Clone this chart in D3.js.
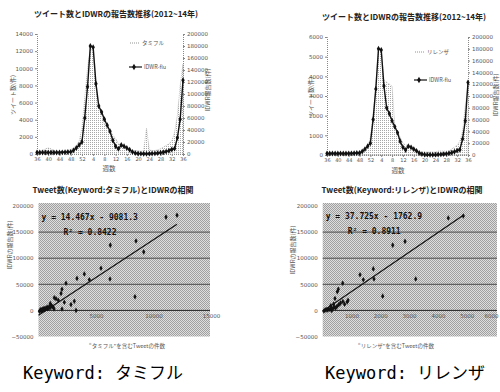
<!DOCTYPE html>
<html>
<head>
<meta charset="utf-8">
<script src="https://cdn.jsdelivr.net/npm/d3@7"></script>
<style>
  body { margin: 0; background: #fff; }
  svg { display: block; font-family: "Noto Sans CJK JP", "DejaVu Sans", sans-serif; }
</style>
</head>
<body>
<div id="chart"></div>
<script>
// week labels under the two time series charts (every 4th week)
const weekLabels = ["36", "40", "44", "48", "52", "4", "8", "12", "16", "20", "24", "28", "32", "36"];

// IDWR weekly reports (right axis), shared by both top charts
const idwr = [2500, 2500, 2500, 2500, 2500, 2500, 2500, 2500, 2500, 2800, 3000, 3300,
  3500, 6000, 10000, 15000, 20000, 60000, 112000, 180000, 178000, 117000, 80000, 70000,
  58000, 48000, 38000, 23000, 13000, 8500, 15000, 13000, 10000, 7000, 3500, 1500,
  800, 600, 500, 500, 600, 800, 1000, 1500, 2000, 3000, 4000, 5500,
  7500, 9000, 27000, 58000, 123000];

// tweets containing the keyword (left axis)
const tamifluTweets = [300, 300, 400, 600, 700, 600, 400, 300, 300, 300, 350, 400,
  500, 700, 1000, 1500, 3000, 6500, 10000, 12300, 12000, 8000, 5500, 4500,
  3500, 3000, 2800, 2200, 1800, 1200, 1000, 900, 700, 500, 400, 400,
  350, 300, 400, 3000, 500, 400, 400, 500, 600, 800, 1000, 1200,
  1500, 2500, 4500, 8000, 10500];
const relenzaTweets = [100, 100, 100, 100, 100, 100, 100, 100, 100, 100, 100, 100,
  200, 200, 200, 400, 900, 2000, 3500, 5400, 5300, 3800, 3700, 3600,
  3500, 1500, 1200, 900, 600, 500, 500, 400, 150, 150, 150, 150,
  150, 150, 150, 150, 150, 200, 200, 200, 200, 200, 300, 400,
  500, 700, 1200, 2500, 3500];

// scatter: weekly tweet count vs IDWR reports
const tamifluX = [12043, 11087, 8478, 9148, 6246, 5435, 3986, 3348, 4420, 6217, 2391, 2043, 1957, 1522, 2246,
  2826, 3116, 8391, 3261, 1374, 1722, 1026, 2043, 80, 150, 200, 260, 320, 380, 430, 500, 560, 620, 700, 760,
  820, 900, 980, 1050, 1150, 1250, 1350];
const tamifluY = [182400, 178700, 132800, 112100, 125000, 80800, 69700, 61300, 58600, 60000, 52100, 40400, 32600, 22300, 15600,
  11100, 17600, 26200, 0, 24200, 19500, 13000, 2700, -1500, 500, 1200, -500, 2000, 800, 3000, 1500, 4000, 2500, 5000, 3200,
  6500, 4000, 7500, 5500, 9000, 6500, 3000];
const relenzaX = [4882, 4361, 2858, 2431, 1295, 1758, 1410, 1781, 3229, 2083, 694, 543, 507, 427, 850,
  880, 312, 620, 700, 760, 560, 40, 80, 120, 160, 200, 250, 300, 350, 400, 450, 500, 380, 280];
const relenzaY = [181000, 177100, 132200, 125000, 68400, 79500, 58600, 60000, 60000, 27300, 52100, 40400, 35700, 22800, 16000,
  19500, 0, 14000, 17000, 12000, 11000, -1000, 500, 1500, 800, 2500, 1800, 4000, 3000, 6000, 4500, 8000, 12000, 9000];

// trendline coefficients printed on the charts [slope, intercept, R2]
const tamifluFit = [14.467, -9081.3, 0.8422];
const relenzaFit = [37.725, -1762.9, 0.8911];

const svg = d3.select("#chart").append("svg").attr("width", 500).attr("height", 392);

const defs = svg.append("defs");
const stip = defs.append("pattern").attr("id", "stipple").attr("width", 2).attr("height", 2)
  .attr("patternUnits", "userSpaceOnUse");
stip.append("rect").attr("width", 2).attr("height", 2).attr("fill", "#dedede");
stip.append("rect").attr("width", 1).attr("height", 1).attr("fill", "#a0a0a0");
stip.append("rect").attr("x", 1).attr("y", 1).attr("width", 1).attr("height", 1).attr("fill", "#a0a0a0");
const dots = defs.append("pattern").attr("id", "dots").attr("width", 2).attr("height", 2)
  .attr("patternUnits", "userSpaceOnUse");
dots.append("rect").attr("width", 2).attr("height", 2).attr("fill", "#fff");
dots.append("rect").attr("width", 1).attr("height", 1).attr("fill", "#a8a8a8");

const fmt = d3.format("d");

function styleAxis(g, size) {
  g.attr("font-family", "DejaVu Sans").attr("font-size", size);
  g.selectAll("text").attr("fill", "#555");
  g.selectAll(".tick line").attr("stroke", "#888");
  g.select(".domain").attr("stroke", "#888").attr("stroke-dasharray", "1,1");
}

function label(x, y, text, opts = {}) {
  return svg.append("text")
    .attr("transform", `translate(${x},${y})` + (opts.rotate ? ` rotate(${opts.rotate})` : ""))
    .attr("text-anchor", opts.anchor || "middle")
    .attr("dominant-baseline", "middle")
    .attr("font-size", opts.size || 6)
    .attr("font-weight", opts.weight || "normal")
    .attr("font-family", opts.family || null)
    .attr("fill", opts.fill || "#555")
    .text(text);
}

function drawCombo(c) {
  const x = d3.scaleLinear().domain([0, idwr.length - 1]).range([c.left, c.right]);
  const yL = d3.scaleLinear().domain([0, c.leftMax]).range([c.bottom, c.top]);
  const yR = d3.scaleLinear().domain([0, 200000]).range([c.bottom, c.top]);

  // dotted tweet area
  svg.append("path").datum(c.tweets)
    .attr("d", d3.area().x((d, i) => x(i)).y0(c.bottom).y1(d => yL(d)))
    .attr("fill", "url(#dots)")
    .attr("stroke", "#999").attr("stroke-width", 0.6).attr("stroke-dasharray", "1,1");

  svg.append("g").attr("transform", `translate(${c.left},0)`)
    .call(d3.axisLeft(yL).tickValues(d3.range(0, c.leftMax + 1, c.leftStep)).tickFormat(fmt).tickSize(2).tickPadding(2))
    .call(g => styleAxis(g, 5.5));
  svg.append("g").attr("transform", `translate(${c.right},0)`)
    .call(d3.axisRight(yR).tickValues(d3.range(0, 200001, 20000)).tickFormat(fmt).tickSize(2).tickPadding(2))
    .call(g => styleAxis(g, 5.5));
  svg.append("g").attr("transform", `translate(0,${c.bottom})`)
    .call(d3.axisBottom(x).tickValues(d3.range(0, idwr.length, 4))
      .tickFormat((d, i) => weekLabels[i]).tickSize(2).tickPadding(1))
    .call(g => styleAxis(g, 5));

  // IDWR line with diamond markers
  svg.append("path").datum(idwr)
    .attr("d", d3.line().x((d, i) => x(i)).y(d => yR(d)))
    .attr("fill", "none").attr("stroke", "#111").attr("stroke-width", 1.4);
  svg.append("g").selectAll("path").data(idwr).join("path")
    .attr("transform", (d, i) => `translate(${x(i)},${yR(d)})`)
    .attr("d", d3.symbol(d3.symbolDiamond, 10))
    .attr("fill", "#111");

  // legend
  const lg = c.legend;
  svg.append("line").attr("x1", lg.x).attr("x2", lg.x + 10).attr("y1", lg.y1).attr("y2", lg.y1)
    .attr("stroke", "#777").attr("stroke-width", 0.8).attr("stroke-dasharray", "1,1");
  label(lg.x + 12, lg.y1, c.name, { anchor: "start", size: 5.5 });
  svg.append("line").attr("x1", lg.x - 1).attr("x2", lg.x + 12).attr("y1", lg.y2).attr("y2", lg.y2)
    .attr("stroke", "#111").attr("stroke-width", 1.2);
  svg.append("path").attr("transform", `translate(${lg.x + 4},${lg.y2})`)
    .attr("d", d3.symbol(d3.symbolDiamond, 12)).attr("fill", "#111");
  label(lg.x + 14, lg.y2, "IDWR-flu", { anchor: "start", size: 5.5 });

  label(c.titleX, c.titleY, "ツイート数とIDWRの報告数推移(2012~14年)", { size: 8, weight: "bold", fill: "#222" });
  label(c.ylx, c.yly, "ツイート数(件)", { rotate: -90 });
  label(c.yrx, c.yry, "IDWR報告数(件)", { rotate: -90 });
  label(c.xtx, c.xty, "週数", { size: 6.5 });
}

function drawScatter(c) {
  const x = d3.scaleLinear().domain([0, c.xMax]).range([c.left, c.right]);
  const y = d3.scaleLinear().domain([-50000, 200000]).range([c.bottom, c.top]);

  svg.append("rect").attr("x", c.left).attr("y", c.top - 3)
    .attr("width", c.boxRight - c.left).attr("height", c.bottom - c.top + 3)
    .attr("fill", "url(#stipple)");

  svg.append("g").selectAll("line").data([0, 50000, 100000, 150000]).join("line")
    .attr("x1", c.left).attr("x2", c.boxRight)
    .attr("y1", d => y(d)).attr("y2", d => y(d))
    .attr("stroke", d => d === 0 ? "#222" : "#4a4a4a").attr("stroke-width", 1);

  svg.append("g").attr("transform", `translate(${c.left},0)`)
    .call(d3.axisLeft(y).tickValues(d3.range(-50000, 200001, 50000)).tickSize(0).tickPadding(5).tickFormat(fmt))
    .call(g => { styleAxis(g, 5.5); g.select(".domain").remove(); });
  svg.append("g").attr("transform", `translate(0,${y(0) + 2})`)
    .call(d3.axisBottom(x).tickValues(c.xTicks).tickSize(0).tickPadding(2).tickFormat(fmt))
    .call(g => {
      styleAxis(g, 5.5);
      g.select(".domain").remove();
      // keep the last label inside the picture
      g.selectAll(".tick").filter(d => x(d) > 490).select("text")
        .attr("text-anchor", "end").attr("dx", 498 - x(c.xTicks[c.xTicks.length - 1]));
    });

  // linear trendline over the data range
  const xEnd = d3.max(c.xs);
  svg.append("line")
    .attr("x1", x(0)).attr("y1", y(c.fit[1]))
    .attr("x2", x(xEnd)).attr("y2", y(c.fit[0] * xEnd + c.fit[1]))
    .attr("stroke", "#111").attr("stroke-width", 1.2);

  svg.append("g").selectAll("path").data(c.xs).join("path")
    .attr("transform", (d, i) => `translate(${x(d)},${y(c.ys[i])})`)
    .attr("d", d3.symbol(d3.symbolDiamond, 9))
    .attr("fill", "#111");

  const sign = c.fit[1] < 0 ? "-" : "+";
  label(c.left + 3, c.eqY, `y = ${c.fit[0]}x ${sign} ${Math.abs(c.fit[1])}`,
    { anchor: "start", size: 8, weight: "bold", family: "DejaVu Sans Mono", fill: "#111" });
  label(c.left + 25, c.eqY + 15, `R² = ${c.fit[2]}`,
    { anchor: "start", size: 8, weight: "bold", family: "DejaVu Sans Mono", fill: "#111" });

  label(c.titleX, c.titleY, `Tweet数(Keyword:${c.name})とIDWRの相関`, { size: 8, weight: "bold", fill: "#222" });
  label(c.ytx, c.yty, "IDWRの報告数(件)", { rotate: -90 });
  label(c.xtx, c.xty, `“${c.name}”を含むTweetの件数`, { size: 5.5 });
}

drawCombo({
  left: 37, right: 183, top: 34, bottom: 154, leftMax: 14000, leftStep: 2000,
  tweets: tamifluTweets, name: "タミフル",
  legend: { x: 130, y1: 43, y2: 67 },
  titleX: 116, titleY: 15, ylx: 13, yly: 95, yrx: 208, yry: 90, xtx: 109, xty: 169
});
drawCombo({
  left: 327, right: 468, top: 37, bottom: 155, leftMax: 6000, leftStep: 1000,
  tweets: relenzaTweets, name: "リレンザ",
  legend: { x: 415, y1: 52, y2: 80 },
  titleX: 404, titleY: 18, ylx: 311, yly: 97, yrx: 496, yry: 95, xtx: 398, xty: 171
});

drawScatter({
  left: 38.5, right: 211, boxRight: 210, top: 206, bottom: 336.5, xMax: 15000,
  xTicks: [5000, 10000, 15000], xs: tamifluX, ys: tamifluY, fit: tamifluFit, name: "タミフル",
  eqY: 217, titleX: 113, titleY: 191, ytx: 10, yty: 245, xtx: 127, xty: 346
});
drawScatter({
  left: 322.7, right: 495.5, boxRight: 497, top: 206, bottom: 336.5, xMax: 6000,
  xTicks: [1000, 2000, 3000, 4000, 5000, 6000], xs: relenzaX, ys: relenzaY, fit: relenzaFit, name: "リレンザ",
  eqY: 216, titleX: 402, titleY: 191, ytx: 293, yty: 250, xtx: 396, xty: 346
});

// captions
label(23, 374, "Keyword: タミフル", { anchor: "start", size: 17, family: "DejaVu Sans Mono, Noto Sans CJK JP", fill: "#000" });
label(325, 374, "Keyword: リレンザ", { anchor: "start", size: 17, family: "DejaVu Sans Mono, Noto Sans CJK JP", fill: "#000" });
</script>
</body>
</html>
